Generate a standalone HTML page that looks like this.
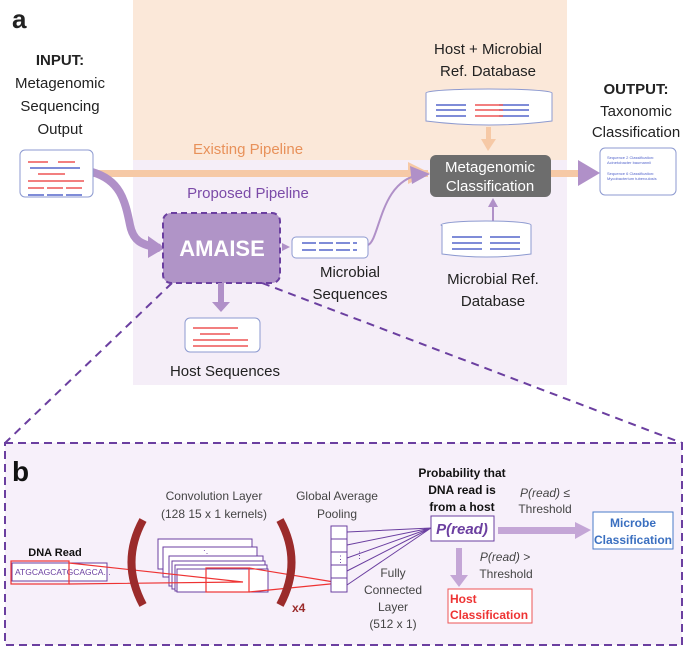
<!DOCTYPE html><html><head><style>body{margin:0;background:#fff}svg{display:block;font-family:"Liberation Sans",sans-serif}</style></head><body>
<svg width="685" height="648" viewBox="0 0 685 648">
<rect x="133" y="0" width="434" height="160" fill="#fbe8d9"/>
<rect x="133" y="160" width="434" height="225" fill="#f5eef8"/>
<text x="12" y="28" font-size="26" font-weight="bold" fill="#222">a</text>
<g font-size="15" fill="#222" text-anchor="middle">
<text x="60" y="65" font-weight="bold">INPUT:</text><text x="60" y="88">Metagenomic</text><text x="60" y="111">Sequencing</text><text x="60" y="134">Output</text>
<text x="488" y="54">Host + Microbial</text><text x="488" y="76">Ref. Database</text>
<text x="636" y="94" font-weight="bold">OUTPUT:</text><text x="636" y="116">Taxonomic</text><text x="636" y="137">Classification</text>
<text x="350" y="277">Microbial</text><text x="350" y="299">Sequences</text>
<text x="493" y="284">Microbial Ref.</text><text x="493" y="306">Database</text>
<text x="225" y="376">Host Sequences</text>
<text x="248" y="154" fill="#e8915a">Existing Pipeline</text>
<text x="248" y="198" fill="#7b4aa8">Proposed Pipeline</text>
</g>
<rect x="92" y="170" width="336" height="7" fill="#f6c9a6"/>
<polygon points="408,162 430,173 408,184" fill="#f6c9a6"/>
<rect x="551" y="170" width="30" height="7" fill="#f6c9a6"/>
<polygon points="578,160 600,173 578,186" fill="#b090c8"/>
<path d="M92,172 C120,180 125,200 130,225 C133,240 140,245 160,248" stroke="#b090c8" stroke-width="8" fill="none"/>
<polygon points="148,236 165,248 148,258" fill="#b090c8"/>
<path d="M368,245 C380,240 380,180 420,175" stroke="#b090c8" stroke-width="2" fill="none"/>
<polygon points="410,166 430,174 412,184" fill="#b090c8"/>
<rect x="20" y="150" width="73" height="47" rx="5" fill="#fff" stroke="#8d9ad0"/>
<g stroke-width="1.5"><line x1="28" y1="162" x2="48" y2="162" stroke="#e55"/><line x1="58" y1="162" x2="75" y2="162" stroke="#e55"/><line x1="30" y1="168" x2="80" y2="168" stroke="#56c"/><line x1="38" y1="174" x2="65" y2="174" stroke="#e55"/><line x1="28" y1="181" x2="84" y2="181" stroke="#e55"/><line x1="28" y1="188" x2="84" y2="188" stroke="#e55" stroke-dasharray="16,3"/><line x1="28" y1="195" x2="84" y2="195" stroke="#56c" stroke-dasharray="16,3"/></g>
<rect x="430" y="155" width="121" height="42" rx="6" fill="#6d6d6d"/>
<text x="490" y="172" font-size="15" fill="#fff" text-anchor="middle">Metagenomic</text><text x="490" y="191" font-size="15" fill="#fff" text-anchor="middle">Classification</text>
<ellipse cx="489" cy="93" rx="63" ry="4" fill="#fff" stroke="#8d9ad0"/>
<path d="M426,93 V121 Q489,129 552,121 V93" fill="#fff" stroke="#8d9ad0"/>
<g stroke-width="1.5"><path d="M436,105h30M436,110h30M436,116h30M499,116h30M499,110h30M499,105h30" stroke="#56c"/><path d="M475,105h28M475,110h28M475,116h28" stroke="#e55"/></g>
<rect x="486" y="127" width="5" height="13" fill="#f6c9a6"/><polygon points="481,139 496,139 488,151" fill="#f6c9a6"/>
<rect x="492" y="205" width="2" height="17" fill="#b090c8"/><polygon points="488,207 498,207 493,198" fill="#b090c8"/>
<ellipse cx="486" cy="225" rx="45" ry="4" fill="#fff" stroke="#8d9ad0"/>
<path d="M442,225 V254 Q486,260 531,254 V225" fill="#fff" stroke="#8d9ad0"/>
<path d="M452,237h30M452,243h30M452,249h30M490,237h30M490,243h30M490,249h30" stroke="#56c" stroke-width="1.5"/>
<rect x="600" y="148" width="76" height="47" rx="5" fill="#fff" stroke="#8d9ad0"/>
<g font-size="4" fill="#56c"><text x="607" y="159">Sequence 2 Classification:</text><text x="607" y="164">Acinetobacter baumannii</text><text x="607" y="175">Sequence 6 Classification:</text><text x="607" y="180">Mycobacterium tuberculosis</text></g>
<rect x="163" y="213" width="117" height="70" rx="8" fill="#b094c7" stroke="#6b3fa0" stroke-width="2" stroke-dasharray="6,4"/>
<text x="222" y="256" font-size="22" font-weight="bold" fill="#fff" text-anchor="middle">AMAISE</text>
<polygon points="282,243 290,247 282,251" fill="#b090c8"/>
<rect x="292" y="237" width="76" height="21" rx="4" fill="#fff" stroke="#8d9ad0"/>
<path d="M302,243h55M302,250h55" stroke="#56c" stroke-dasharray="14,3" stroke-width="1.5"/>
<rect x="218" y="283" width="6" height="20" fill="#b090c8"/><polygon points="212,302 230,302 221,312" fill="#b090c8"/>
<rect x="185" y="318" width="75" height="34" rx="5" fill="#fff" stroke="#8d9ad0"/>
<path d="M193,328h45M200,334h30M193,340h55M193,346h55" stroke="#e55" stroke-width="1.5"/>
<path d="M172,283 L5,443 M262,283 L682,443" stroke="#6b3fa0" stroke-width="2" stroke-dasharray="8,6"/>
<rect x="5" y="443" width="677" height="202" fill="#f7f0fa" stroke="#6b3fa0" stroke-width="2" stroke-dasharray="8,5"/>
<text x="12" y="481" font-size="28" font-weight="bold" fill="#111">b</text>
<g font-size="12" fill="#444" text-anchor="middle">
<text x="214" y="500">Convolution Layer</text><text x="214" y="518">(128 15 x 1  kernels)</text>
<text x="337" y="500">Global Average</text><text x="337" y="518">Pooling</text>
<text x="393" y="577">Fully</text><text x="393" y="594">Connected</text><text x="393" y="611">Layer</text><text x="393" y="628">(512 x 1)</text>
<text x="545" y="497" font-style="italic">P(read) ≤</text><text x="545" y="513">Threshold</text>
<text x="505" y="561" font-style="italic">P(read) &gt;</text><text x="506" y="578">Threshold</text>
</g>
<g font-size="12" font-weight="bold" fill="#111" text-anchor="middle"><text x="462" y="477">Probability that</text><text x="462" y="494">DNA read is</text><text x="462" y="511">from a host</text><text x="55" y="556" font-size="11">DNA Read</text></g>
<rect x="12" y="563" width="95" height="18" fill="#fff" stroke="#6b3fa0"/>
<text x="15" y="575" font-size="8.5" fill="#6b3fa0">ATGCAGCATGCAGCA...</text>
<rect x="11" y="561" width="58" height="23" fill="none" stroke="#e33" stroke-width="1.2"/>
<g fill="#fff" stroke="#6b3fa0"><rect x="158" y="539" width="94" height="30"/><rect x="163" y="547" width="94" height="30"/><rect x="169" y="556" width="94" height="30"/><rect x="172" y="561" width="93" height="28"/><rect x="175" y="565" width="92" height="26"/><rect x="177" y="569" width="91" height="23"/></g>
<rect x="206" y="568" width="43" height="24" fill="none" stroke="#e33" stroke-width="1.2"/>
<path d="M69,563 L243,582 L69,584 M249,568 L340,583 L249,592" stroke="#e33" fill="none" stroke-width="1.2"/>
<text x="203" y="556" font-size="8" fill="#6b3fa0">⋱</text>
<path d="M143,520 Q120,562 143,605" stroke="#9b2b2b" stroke-width="8" fill="none"/>
<path d="M280,520 Q303,562 280,605" stroke="#9b2b2b" stroke-width="8" fill="none"/>
<text x="292" y="612" font-size="12" font-weight="bold" fill="#9b2b2b">x4</text>
<g fill="#fff" stroke="#6b3fa0"><rect x="331" y="526" width="16" height="13"/><rect x="331" y="539" width="16" height="13"/><rect x="331" y="552" width="16" height="13"/><rect x="331" y="565" width="16" height="13"/><rect x="331" y="578" width="16" height="14"/></g>
<text x="336" y="562" font-size="9" fill="#6b3fa0">⋮</text><text x="355" y="558" font-size="9" fill="#6b3fa0">⋮</text>
<g stroke="#6b3fa0"><path d="M347,532 L431,528 M347,545 L431,528 M347,558 L431,528 M347,571 L431,528 M347,585 L431,528"/></g>
<rect x="431" y="516" width="63" height="25" fill="#fff" stroke="#6b3fa0"/>
<text x="462" y="534" font-size="15" font-weight="bold" font-style="italic" fill="#6b3fa0" text-anchor="middle">P(read)</text>
<rect x="498" y="527" width="78" height="7" fill="#c4a6d6"/><polygon points="575,522 591,530 575,539" fill="#c4a6d6"/>
<rect x="456" y="548" width="6" height="28" fill="#c4a6d6"/><polygon points="450,575 468,575 459,587" fill="#c4a6d6"/>
<rect x="593" y="512" width="80" height="37" fill="#fff" stroke="#4a7bc8"/>
<text x="633" y="527" font-size="12" font-weight="bold" fill="#3a6fc0" text-anchor="middle">Microbe</text><text x="633" y="544" font-size="12" font-weight="bold" fill="#3a6fc0" text-anchor="middle">Classification</text>
<rect x="448" y="589" width="84" height="34" fill="#fff" stroke="#e55"/>
<text x="450" y="603" font-size="12" font-weight="bold" fill="#e33">Host</text><text x="450" y="619" font-size="12" font-weight="bold" fill="#e33">Classification</text>
</svg></body></html>
